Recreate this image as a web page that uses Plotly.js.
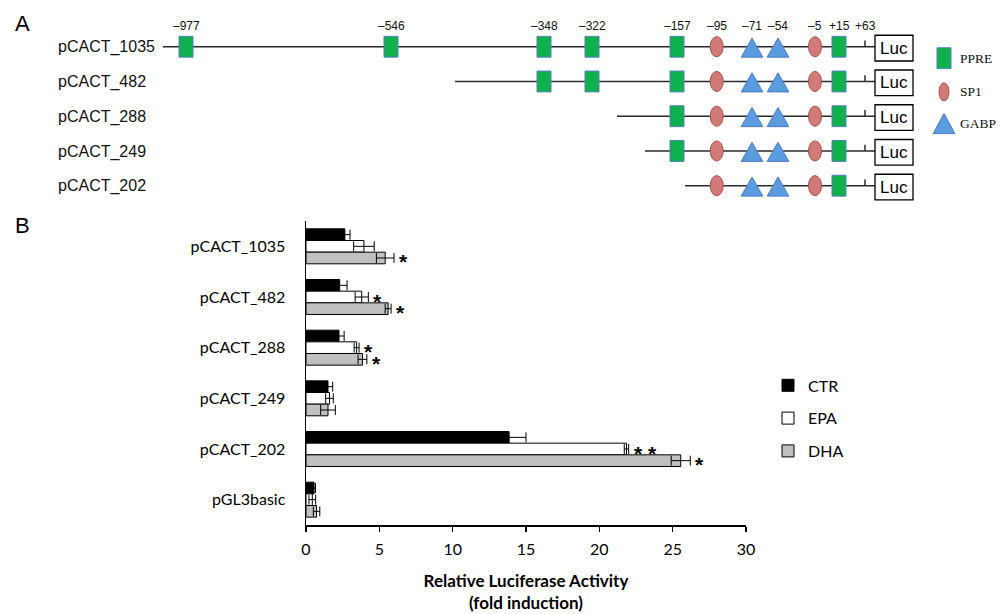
<!DOCTYPE html>
<html>
<head>
<meta charset="utf-8">
<script src="https://cdn.plot.ly/plotly-3.0.1.min.js"></script>
<style>html,body{margin:0;padding:0;background:#fff;}#chart{width:1000px;height:614px;}</style>
</head>
<body>
<div id="chart"></div>
<script>
// ---------- Panel B data ----------
const categories = ['pCACT_1035','pCACT_482','pCACT_288','pCACT_249','pCACT_202','pGL3basic'];
const ctr    = [2.65, 2.3, 2.25, 1.5, 13.85, 0.55];
const ctrErr = [0.35, 0.5, 0.35, 0.32, 1.15, 0.1];
const epa    = [3.95, 3.8, 3.45, 1.6, 21.85, 0.43];
const epaErr = [0.7, 0.45, 0.17, 0.26, 0.15, 0.23];
const dha    = [5.4, 5.6, 3.85, 1.5, 25.55, 0.72];
const dhaErr = [0.6, 0.2, 0.3, 0.5, 0.65, 0.22];
const epaSig = ['', '*', '*', '', '* *', ''];
const dhaSig = ['*', '*', '*', '', '*', ''];
const xTicks = [0, 5, 10, 15, 20, 25, 30];

// ---------- Panel A data (schematic) ----------
const constructs = ['pCACT_1035','pCACT_482','pCACT_288','pCACT_249','pCACT_202'];
const constructStartX = [163, 455, 617, 645, 685];     // diagram units
const siteLabels = ['\u2013977','\u2013546','\u2013348','\u2013322','\u2013157','\u201395','\u201371','\u201354','\u20135','+15','+63'];
const siteTypes  = ['PPRE','PPRE','PPRE','PPRE','PPRE','SP1','GABP','GABP','SP1','PPRE','end'];
const siteX      = [186, 391, 544, 592, 677, 716.7, 752, 778, 815, 839, 865]; // diagram units
const lucBox = [875, 913];   // diagram units
const legendItems = ['PPRE','SP1','GABP'];

// ---------- styles ----------
const bargap = 0.31;
const fontB = 'Lato, "Open Sans", sans-serif';
const fontA = '"Liberation Sans", Arial, sans-serif';
const pprePal = {fill:'#10b04c', line:'#4f7fbf'};
const sp1Pal = {fill:'#d27a78', line:'#a8504c'};
const gabpPal = {fill:'#5b9be0', line:'#4a7cbf'};

const traces = [];
// Panel B bars
const series = [
  {name:'CTR', v:ctr, e:ctrErr, fill:'#000000'},
  {name:'EPA', v:epa, e:epaErr, fill:'#ffffff'},
  {name:'DHA', v:dha, e:dhaErr, fill:'#c0c0c0'}
];
series.forEach(s => {
  traces.push({
    type:'bar', orientation:'h', name:s.name, legendgroup:s.name,
    x:s.v, y:categories, xaxis:'x', yaxis:'y',
    marker:{color:s.fill, line:{color:'#000', width:1}},
    error_x:{type:'data', array:s.e, visible:true, color:'#000', thickness:1, width:5},
    hoverinfo:'x+name'
  });
});

// Panel A row lines
constructs.forEach((c, r) => {
  traces.push({
    type:'scatter', mode:'lines', x:[constructStartX[r], lucBox[0]], y:[r, r],
    xaxis:'x2', yaxis:'y2', showlegend:false, hoverinfo:'skip',
    line:{color:'#2a2a2a', width:1.5}
  });
});

const shapes = [];
const annotations = [];

function addPPRE(x, y, hw, hh) {
  shapes.push({type:'rect', xref:'x2', yref:'y2', x0:x-hw, x1:x+hw, y0:y-hh, y1:y+hh,
    fillcolor:pprePal.fill, line:{color:pprePal.line, width:1}});
}
function addSP1(x, y, hw, hh) {
  shapes.push({type:'circle', xref:'x2', yref:'y2', x0:x-hw, x1:x+hw, y0:y-hh, y1:y+hh,
    fillcolor:sp1Pal.fill, line:{color:sp1Pal.line, width:1}});
}
function addGABP(x, y, hw, up, down) {
  shapes.push({type:'path', xref:'x2', yref:'y2',
    path:`M ${x-hw} ${y+down} L ${x+hw} ${y+down} L ${x} ${y-up} Z`,
    fillcolor:gabpPal.fill, line:{color:gabpPal.line, width:1}});
}

constructs.forEach((c, r) => {
  siteX.forEach((x, i) => {
    if (x < constructStartX[r]) return;
    if (siteTypes[i] === 'PPRE') addPPRE(x, r, 7, 0.3);
    else if (siteTypes[i] === 'SP1') addSP1(x, r, 6.5, 0.29);
    else if (siteTypes[i] === 'GABP') addGABP(x, r, 10.8, 0.25, 0.3);
    else if (siteTypes[i] === 'end') {
      shapes.push({type:'line', xref:'x2', yref:'y2', x0:x, x1:x, y0:r, y1:r-0.18,
        line:{color:'#2a2a2a', width:1.5}});
    }
  });
  shapes.push({type:'rect', xref:'x2', yref:'y2', x0:lucBox[0], x1:lucBox[1], y0:r-0.33, y1:r+0.41,
    fillcolor:'#ffffff', line:{color:'#000', width:1.3}});
  annotations.push({xref:'x2', yref:'y2', x:(lucBox[0]+lucBox[1])/2, y:r+0.04, text:'Luc', showarrow:false,
    font:{family:'"Liberation Sans Narrow", "Liberation Sans", Arial', size:17, color:'#000'}});
});

// site position labels above first construct
siteLabels.forEach((lab, i) => {
  annotations.push({xref:'x2', yref:'y2', x:siteX[i], y:0, yshift:21, text:lab, showarrow:false,
    font:{family:fontA, size:12, color:'#111'}});
});

// Panel A legend
const legX = 944;
const legY = [0.33, 1.3, 2.22];
addPPRE(legX, legY[0], 7, 0.3);
addSP1(legX, legY[1], 5, 0.26);
addGABP(legX, legY[2], 10.8, 0.3, 0.28);
legendItems.forEach((lab, k) => {
  annotations.push({xref:'x2', yref:'y2', x:958, y:legY[k], xanchor:'left', text:lab, showarrow:false,
    font:{family:'"Liberation Serif", "DejaVu Serif", serif', size:13.5, color:'#111'}});
});

// Asterisks panel B
const w = (1 - bargap) / 3;
const astFont = {family:fontA, size:21, color:'#000', weight:'bold'};
categories.forEach((c, j) => {
  if (epaSig[j]) annotations.push({xref:'x', yref:'y', x:epa[j]+epaErr[j], y:j, xanchor:'left', xshift:3, yshift:-4,
    text:'<b>'+epaSig[j]+'</b>', showarrow:false, font:astFont});
  if (dhaSig[j]) annotations.push({xref:'x', yref:'y', x:dha[j]+dhaErr[j], y:j+w, xanchor:'left', xshift:3, yshift:-4,
    text:'<b>'+dhaSig[j]+'</b>', showarrow:false, font:astFont});
});

// Panel letters
annotations.push({xref:'paper', yref:'paper', x:0.022, y:1-23/614, xanchor:'center', yanchor:'middle', text:'A', showarrow:false,
  font:{family:fontA, size:22, color:'#000'}});
annotations.push({xref:'paper', yref:'paper', x:0.022, y:1-226/614, xanchor:'center', yanchor:'middle', text:'B', showarrow:false,
  font:{family:fontA, size:22, color:'#000'}});

const layout = {
  width:1000, height:614,
  margin:{l:0, r:0, t:0, b:0},
  paper_bgcolor:'#fff', plot_bgcolor:'rgba(0,0,0,0)',
  barmode:'group', bargap:bargap, bargroupgap:0,
  showlegend:true,
  legend:{x:0.768, y:0.4, xanchor:'left', yanchor:'top', traceorder:'grouped', tracegroupgap:9,
    itemwidth:30, font:{family:fontB, size:16, color:'#000'}, bgcolor:'rgba(0,0,0,0)'},
  xaxis:{domain:[0.306, 0.746], anchor:'y', range:[0, 30], tickvals:xTicks, ticks:'outside', ticklen:5,
    tickcolor:'#000', tickwidth:1.3, showline:true, linecolor:'#000', linewidth:1.5, showgrid:false, zeroline:false,
    ticklabelstandoff:4,
    tickfont:{family:fontB, size:16, color:'#000'},
    title:{text:'<b>Relative Luciferase Activity</b><br><b>(fold induction)</b>', standoff:18,
      font:{family:fontB, size:17, color:'#000'}}},
  yaxis:{domain:[1-525/614, 1-221/614], anchor:'x', type:'category', categoryorder:'array', categoryarray:categories,
    range:[5.5, -0.5], showline:true, linecolor:'#000', linewidth:1.5, showgrid:false, zeroline:false,
    ticks:'outside', ticklen:16, tickcolor:'rgba(0,0,0,0)',
    tickfont:{family:fontB, size:16, color:'#000'}},
  xaxis2:{domain:[0, 1], anchor:'y2', range:[0, 1000], visible:false, fixedrange:true},
  yaxis2:{domain:[1-218/614, 1-12/614], anchor:'free', position:0.054, range:[4.93, -1.0],
    tickvals:constructs.map((c, r) => r), ticktext:constructs, ticklabelposition:'inside', ticks:'',
    showline:false, showgrid:false, zeroline:false, fixedrange:true,
    tickfont:{family:fontA, size:16, color:'#111'}},
  shapes:shapes,
  annotations:annotations
};

Plotly.newPlot('chart', traces, layout, {displayModeBar:false, staticPlot:true});
</script>
</body>
</html>
